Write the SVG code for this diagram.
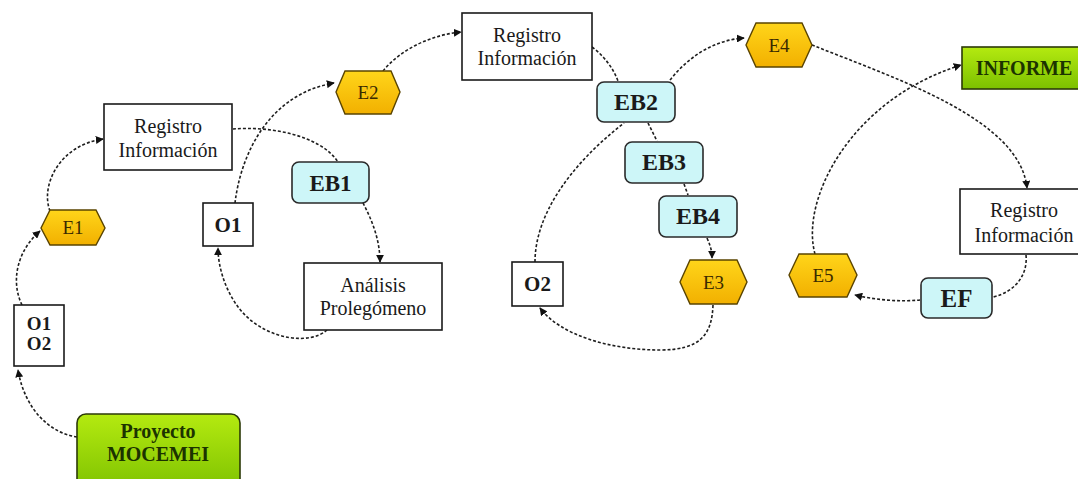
<svg xmlns="http://www.w3.org/2000/svg" width="1078" height="479" viewBox="0 0 1078 479">
  <style>
    .box { fill: #ffffff; stroke: #1a1a1a; stroke-width: 1.6; }
    .hex { fill: url(#gold); stroke: #5a4400; stroke-width: 1.4; }
    .eb { fill: #cdf6f8; stroke: #2a2a2a; stroke-width: 1.6; }
    .green { fill: url(#lime); stroke: #2c3a08; stroke-width: 1.6; }
    .lbl { font-family: "Liberation Serif", "Times New Roman", serif; fill: #1a1a1a; text-anchor: middle; }
    .reg { font-size: 20px; }
    .bold { font-weight: bold; }
    .hexl { font-size: 19px; fill: #3a2a00; }
    .gl { fill: #1c3300; font-weight: bold; }
    .link { fill: none; stroke: #1e1e1e; stroke-width: 1.6; stroke-dasharray: 3 2; }
    .arrow { marker-end: url(#head); }
  </style>
  <defs>
    <linearGradient id="gold" x1="0" y1="0" x2="0" y2="1">
      <stop offset="0" stop-color="#ffd51a"/>
      <stop offset="1" stop-color="#f2b000"/>
    </linearGradient>
    <linearGradient id="lime" x1="0" y1="0" x2="0" y2="1">
      <stop offset="0" stop-color="#b4ea10"/>
      <stop offset="1" stop-color="#7cc000"/>
    </linearGradient>
    <marker id="head" viewBox="0 0 10 10" refX="9" refY="5" markerWidth="8" markerHeight="8" markerUnits="userSpaceOnUse" orient="auto">
      <path d="M0,0 L10,5 L0,10 z" fill="#111"/>
    </marker>
  </defs>

  <!-- connectors -->
  <g id="connectors">
    <path class="link arrow" d="M77,437 C50,433 25,410 18,370"/>
    <path class="link arrow" d="M22,305 C10,280 18,250 40,231"/>
    <path class="link arrow" d="M50,211 C40,185 60,145 103,139"/>
    <path class="link" d="M233,129 C270,126 320,135 338,162"/>
    <path class="link arrow" d="M363,203 C372,220 380,240 380,262"/>
    <path class="link arrow" d="M327,330 C310,345 270,340 245,315 C228,298 218,270 218,248"/>
    <path class="link arrow" d="M235,203 C240,160 265,95 334,83"/>
    <path class="link arrow" d="M383,71 C400,50 430,35 461,32"/>
    <path class="link" d="M592,47 C605,57 613,68 618,81"/>
    <path class="link arrow" d="M670,80 C690,55 715,40 744,38"/>
    <path class="link" d="M648,123 L657,141"/>
    <path class="link" d="M684,184 L688,195"/>
    <path class="link arrow" d="M707,238 C710,245 712,250 712,258"/>
    <path class="link arrow" d="M713,305 C712,335 700,350 660,350 C610,350 560,335 540,308"/>
    <path class="link" d="M535,262 C535,215 570,165 624,123"/>
    <path class="link arrow" d="M812,45 C900,80 1020,120 1027,188"/>
    <path class="link" d="M1026,255 C1028,275 1015,292 993,297"/>
    <path class="link arrow" d="M920,300 C900,302 875,300 855,295"/>
    <path class="link arrow" d="M815,254 C800,200 850,100 961,65"/>
  </g>

  <!-- nodes -->
  <g id="proyecto">
    <rect class="green" x="77" y="414" width="163" height="80" rx="9"/>
    <text class="lbl gl" x="158" y="438" font-size="20">Proyecto</text>
    <text class="lbl gl" x="158" y="461" font-size="20">MOCEMEI</text>
  </g>

  <g id="o1o2">
    <rect class="box" x="14" y="305" width="50" height="61"/>
    <text class="lbl bold" x="39" y="330" font-size="19">O1</text>
    <text class="lbl bold" x="39" y="350" font-size="19">O2</text>
  </g>

  <g id="e1">
    <polygon class="hex" points="41,228 50,210 96,210 105,228 96,245 50,245"/>
    <text class="lbl hexl" x="73" y="234">E1</text>
  </g>

  <g id="registro1">
    <rect class="box" x="104" y="104" width="128" height="66"/>
    <text class="lbl reg" x="168" y="133">Registro</text>
    <text class="lbl reg" x="168" y="157">Información</text>
  </g>

  <g id="o1">
    <rect class="box" x="203" y="203" width="50" height="43"/>
    <text class="lbl bold" x="228" y="232" font-size="21">O1</text>
  </g>

  <g id="eb1">
    <rect class="eb" x="292" y="162" width="77" height="41" rx="7"/>
    <text class="lbl bold" x="330.5" y="191" font-size="23">EB1</text>
  </g>

  <g id="analisis">
    <rect class="box" x="304" y="263" width="138" height="67"/>
    <text class="lbl reg" x="373" y="292">Análisis</text>
    <text class="lbl reg" x="373" y="315">Prolegómeno</text>
  </g>

  <g id="e2">
    <polygon class="hex" points="336,92 345,71 391,71 400,92 391,114 345,114"/>
    <text class="lbl hexl" x="368" y="99">E2</text>
  </g>

  <g id="registro2">
    <rect class="box" x="462" y="13" width="130" height="67"/>
    <text class="lbl reg" x="527" y="42">Registro</text>
    <text class="lbl reg" x="527" y="65">Información</text>
  </g>

  <g id="eb2">
    <rect class="eb" x="597" y="82" width="78" height="40" rx="7"/>
    <text class="lbl bold" x="636" y="110" font-size="24">EB2</text>
  </g>

  <g id="eb3">
    <rect class="eb" x="625" y="142" width="78" height="41" rx="7"/>
    <text class="lbl bold" x="664" y="170" font-size="24">EB3</text>
  </g>

  <g id="eb4">
    <rect class="eb" x="659" y="196" width="78" height="41" rx="7"/>
    <text class="lbl bold" x="698" y="224" font-size="24">EB4</text>
  </g>

  <g id="e3">
    <polygon class="hex" points="680,282 690,260 737,260 747,282 737,304 690,304"/>
    <text class="lbl hexl" x="713.5" y="289">E3</text>
  </g>

  <g id="o2">
    <rect class="box" x="512" y="262" width="51" height="44"/>
    <text class="lbl bold" x="537.5" y="291" font-size="21">O2</text>
  </g>

  <g id="e4">
    <polygon class="hex" points="746,45 756,23 802,23 812,45 802,67 756,67"/>
    <text class="lbl hexl" x="779" y="52">E4</text>
  </g>

  <g id="informe">
    <rect class="green" x="962" y="47" width="124" height="42"/>
    <text class="lbl gl" x="1024" y="75" font-size="20">INFORME</text>
  </g>

  <g id="registro3">
    <rect class="box" x="960" y="189" width="128" height="65"/>
    <text class="lbl reg" x="1024" y="217">Registro</text>
    <text class="lbl reg" x="1024" y="242">Información</text>
  </g>

  <g id="e5">
    <polygon class="hex" points="789,275 799,254 847,254 857,275 847,297 799,297"/>
    <text class="lbl hexl" x="823" y="282">E5</text>
  </g>

  <g id="ef">
    <rect class="eb" x="921" y="278" width="71" height="40" rx="7"/>
    <text class="lbl bold" x="956.5" y="307" font-size="25">EF</text>
  </g>
</svg>
